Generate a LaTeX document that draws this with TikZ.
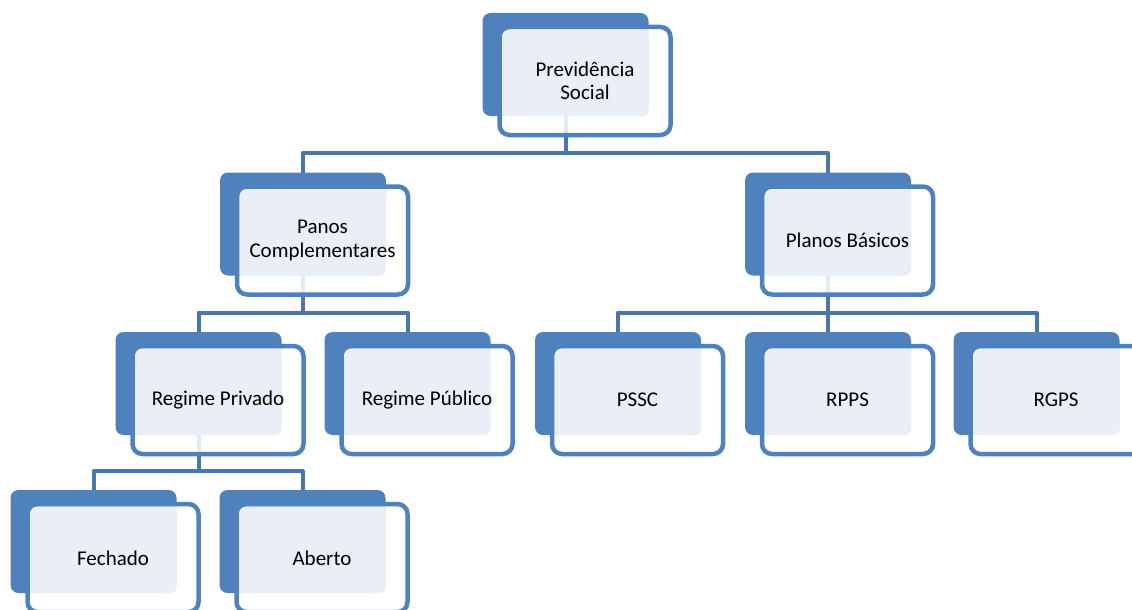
\documentclass[tikz,border=0pt]{standalone}
\usepackage{fontspec}
\setmainfont{Carlito}
\usetikzlibrary{calc,backgrounds}

\definecolor{boxblue}{RGB}{79,129,189}
\definecolor{boxlight}{RGB}{234,239,247}
\definecolor{linkblue}{RGB}{74,118,172}

\tikzset{every picture/.style={line width=0.75pt}}
\tikzset{
  backbox/.style={fill=boxblue, rounded corners=8pt, minimum width=166pt, minimum height=103pt, inner sep=0pt, outer sep=0pt},
  frontbox/.style={draw=boxblue, line width=4.5pt, fill=white, fill opacity=0.85, rounded corners=10pt, minimum width=171pt, minimum height=108pt, inner sep=0pt, outer sep=0pt},
  lightfill/.style={fill=boxlight, rounded corners=6pt},
  boxtext/.style={align=center, font=\fontsize{21}{23.5}\selectfont, text=black},
  connector/.style={draw=linkblue, line width=4pt, line join=round}
}

\begin{document}
\begin{tikzpicture}[x=1pt,y=1pt,yscale=-1,xscale=1]
    \useasboundingbox (0,0) rectangle (1132,610);

    %Box: Previdencia Social
    \node [backbox] (top-b) at (565.5,64.5) {};
    \node [frontbox] (top) at (585,81) {};
    \fill [lightfill] ($(top.north west)+(3,3)$) rectangle (top-b.south east);
    % Text Node
    \node [boxtext] (top-t) at (top) {Previdência\\Social};

    %Box: Panos Complementares
    \node [backbox] (panos-b) at (303,224) {};
    \node [frontbox] (panos) at (322.5,240.5) {};
    \fill [lightfill] ($(panos.north west)+(3,3)$) rectangle (panos-b.south east);
    % Text Node
    \node [boxtext] (panos-t) at (panos) {Panos\\Complementares};

    %Box: Planos Basicos
    \node [backbox] (planos-b) at (828,224) {};
    \node [frontbox] (planos) at (847.5,240.5) {};
    \fill [lightfill] ($(planos.north west)+(3,3)$) rectangle (planos-b.south east);
    % Text Node
    \node [boxtext] (planos-t) at (planos) {Planos Básicos};

    %Box: Regime Privado
    \node [backbox] (privado-b) at (198.5,383.5) {};
    \node [frontbox] (privado) at (218,400) {};
    \fill [lightfill] ($(privado.north west)+(3,3)$) rectangle (privado-b.south east);
    % Text Node
    \node [boxtext] (privado-t) at (privado) {Regime Privado};

    %Box: Regime Publico
    \node [backbox] (publico-b) at (407.5,383.5) {};
    \node [frontbox] (publico) at (427,400) {};
    \fill [lightfill] ($(publico.north west)+(3,3)$) rectangle (publico-b.south east);
    % Text Node
    \node [boxtext] (publico-t) at (publico) {Regime Público};

    %Box: PSSC
    \node [backbox] (pssc-b) at (618,383.5) {};
    \node [frontbox] (pssc) at (637.5,400) {};
    \fill [lightfill] ($(pssc.north west)+(3,3)$) rectangle (pssc-b.south east);
    % Text Node
    \node [boxtext] (pssc-t) at (pssc) {PSSC};

    %Box: RPPS
    \node [backbox] (rpps-b) at (828,383.5) {};
    \node [frontbox] (rpps) at (847.5,400) {};
    \fill [lightfill] ($(rpps.north west)+(3,3)$) rectangle (rpps-b.south east);
    % Text Node
    \node [boxtext] (rpps-t) at (rpps) {RPPS};

    %Box: RGPS
    \node [backbox] (rgps-b) at (1036.5,383.5) {};
    \node [frontbox] (rgps) at (1056,400) {};
    \fill [lightfill] ($(rgps.north west)+(3,3)$) rectangle (rgps-b.south east);
    % Text Node
    \node [boxtext] (rgps-t) at (rgps) {RGPS};

    %Box: Fechado
    \node [backbox] (fechado-b) at (93.5,541.5) {};
    \node [frontbox] (fechado) at (113,558) {};
    \fill [lightfill] ($(fechado.north west)+(3,3)$) rectangle (fechado-b.south east);
    % Text Node
    \node [boxtext] (fechado-t) at (fechado) {Fechado};

    %Box: Aberto
    \node [backbox] (aberto-b) at (302.5,541.5) {};
    \node [frontbox] (aberto) at (322,558) {};
    \fill [lightfill] ($(aberto.north west)+(3,3)$) rectangle (aberto-b.south east);
    % Text Node
    \node [boxtext] (aberto-t) at (aberto) {Aberto};

    %Connectors
    \begin{pgfonlayer}{background}
    \draw [connector] (top-b.south) -- ++(0,37) coordinate (bus-top);
    \draw [connector] (panos-b.north) |- (bus-top) -| (planos-b.north);
    \draw [connector] (panos-b.south) -- ++(0,37) coordinate (bus-panos);
    \draw [connector] (privado-b.north) |- (bus-panos) -| (publico-b.north);
    \draw [connector] (planos-b.south) -- ++(0,37) coordinate (bus-planos);
    \draw [connector] (pssc-b.north) |- (bus-planos) -| (rgps-b.north);
    \draw [connector] (bus-planos) -- (rpps-b.north);
    \draw [connector] (privado-b.south) -- ++(0,36) coordinate (bus-privado);
    \draw [connector] (fechado-b.north) |- (bus-privado) -| (aberto-b.north);
    \end{pgfonlayer}

\end{tikzpicture}
\end{document}
